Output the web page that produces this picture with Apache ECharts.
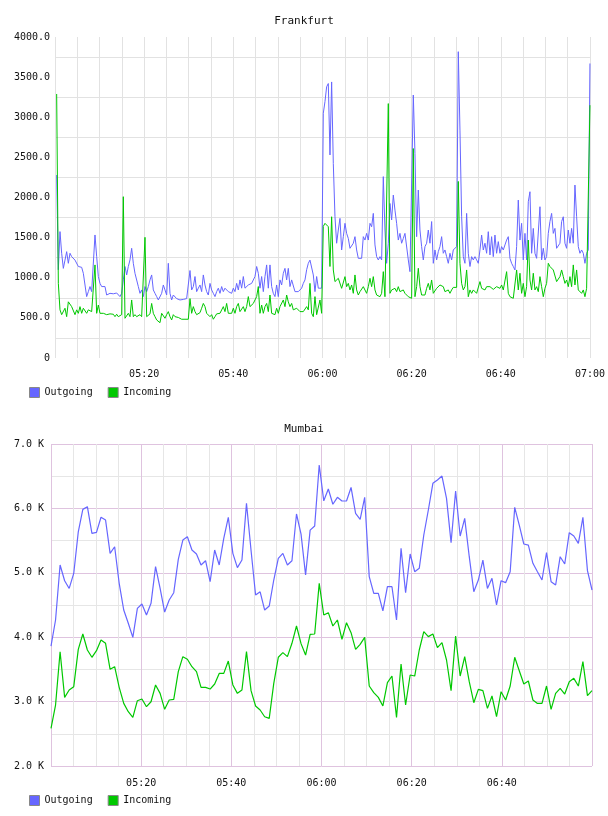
<!DOCTYPE html>
<html>
<head>
<meta charset="utf-8">
<script src="https://cdn.jsdelivr.net/npm/echarts@6/dist/echarts.min.js"></script>
<style>
html,body{margin:0;padding:0;background:#fff;}
#chart{width:608px;height:816px;}
</style>
</head>
<body>
<div id="chart"></div>
<script>
// ---- Data ----
const seriesNames = ['Outgoing', 'Incoming'];
const seriesColors = ['#6666ff', '#00c800'];

// Frankfurt: samples (minutes after 05:00), ~22 s apart
const frankfurtOutgoing = [
2280,1100,1575,1305,1117,1220,1325,1180,1305,1263,
1242,1220,1242,1140,1117,1130,1055,1076,765,827,
890,827,827,1533,1263,1015,930,890,910,890,
785,785,806,806,800,806,810,827,765,806,
973,1140,1035,1140,1222,1367,1180,1055,1035,890,
806,848,765,890,827,890,973,1035,848,806,
765,723,744,806,910,848,785,1180,806,723,
785,765,740,730,723,735,730,725,740,723,
1090,848,890,1015,827,870,910,827,1035,910,
827,785,930,848,806,765,827,870,806,890,
827,870,848,827,848,806,870,827,930,848,
973,870,1015,870,890,910,890,930,950,1015,
1140,1055,870,1015,827,1015,1160,870,1160,890,
806,765,910,765,973,910,1055,1117,973,1117,
890,973,950,827,806,827,848,870,930,973,
1100,1180,1220,1200,1035,827,1015,870,890,870,
3050,3195,3380,3420,2530,3440,2425,1760,1430,1595,
1740,1346,1512,1678,1553,1490,1367,1367,1430,1512,
1346,1242,1263,1242,1512,1470,1553,1470,1678,1636,
1802,1409,1263,1222,1263,1222,2260,1595,1180,1430,
1926,1720,2030,1843,1678,1470,1553,1430,1490,1553,
1574,1222,1076,1097,3277,2550,1512,2093,1595,1388,
1222,1388,1430,1595,1430,1700,1180,1346,1222,1325,
1388,1512,1305,1346,1263,1180,1305,1222,1346,1346,
1388,3817,2840,1760,1263,1180,1802,1305,1140,1263,
1222,1263,1222,1180,1346,1532,1346,1430,1305,1574,
1284,1512,1263,1532,1305,1450,1305,1388,1346,1409,
1470,1512,1242,1180,1140,1097,1388,1968,1470,1678,
1222,1553,1222,1947,2072,1305,1615,1305,1242,1222,
1885,1222,1367,1222,1263,1553,1700,1802,1553,1615,
1367,1388,1430,1700,1760,1430,1367,1595,1430,1615,
1430,2155,1760,1388,1305,1346,1305,1180,1305,1346,
3670
];
const frankfurtIncoming = [
3290,930,600,540,557,620,515,700,680,640,
660,540,600,557,640,557,620,640,557,600,
620,578,557,1160,557,660,557,578,557,565,
540,557,550,540,545,515,545,515,495,540,
2010,495,515,557,515,723,515,540,515,525,
540,515,495,1504,515,515,550,680,557,515,
474,453,440,557,578,495,540,578,515,474,
540,515,495,505,483,483,483,483,483,483,
740,557,640,578,540,557,565,620,680,640,
557,578,515,540,483,515,550,565,557,578,
640,578,680,557,578,557,620,557,640,680,
578,600,640,578,640,765,640,620,680,723,
765,890,557,660,557,640,680,578,785,557,
578,540,620,557,640,620,723,640,785,700,
640,680,600,578,620,600,578,600,578,600,
640,600,930,557,515,765,540,557,723,557,
1640,1678,1700,1636,1140,1760,1097,952,930,993,
1014,868,889,1014,889,930,848,910,806,1035,
848,785,827,806,889,868,806,889,993,889,
1014,848,785,785,764,806,1076,764,744,3170,
806,848,827,868,827,889,827,848,848,806,
806,764,744,744,2610,764,889,1118,889,785,
806,785,868,930,848,972,806,806,868,848,
910,910,889,827,827,848,806,848,880,880,
880,2200,1180,930,848,889,1097,764,848,806,
848,827,806,806,952,868,889,848,889,868,
889,868,855,848,889,868,868,910,848,868,
1076,806,764,785,744,764,1097,848,1056,806,
930,764,889,1470,972,848,1056,848,889,827,
1014,889,764,868,930,1180,1140,1140,1097,1097,
952,930,1014,1097,1014,930,972,889,1014,889,
1160,910,1097,848,848,806,848,764,868,848,
3150
];

// Mumbai: samples about one minute apart
const mumbaiOutgoing = [
3860,4267,5121,4877,4757,4990,5636,5985,6027,5612,
5627,5862,5820,5302,5405,4836,4422,4216,3998,4447,
4516,4345,4526,5096,4757,4390,4578,4691,5209,5509,
5560,5354,5292,5121,5188,4862,5354,5121,5535,5862,
5302,5080,5198,6078,5350,4655,4705,4422,4484,4888,
5225,5302,5121,5188,5913,5600,4966,5662,5727,6674,
6118,6301,6064,6172,6115,6115,6325,5922,5829,6172,
4940,4680,4680,4410,4784,4784,4267,5380,4691,5292,
5017,5069,5587,5975,6389,6441,6503,6156,5468,6270,
5571,5845,5250,4707,4888,5198,4757,4914,4500,4877,
4847,5017,6016,5741,5447,5431,5147,5017,4888,5313,
4862,4811,5250,5137,5623,5571,5457,5862,5033,4733
];
const mumbaiIncoming = [
2585,2947,3775,3066,3180,3232,3812,4050,3801,3688,
3791,3957,3905,3501,3542,3221,2972,2843,2755,3014,
3040,2921,2998,3258,3128,2880,3025,3035,3465,3698,
3657,3542,3465,3221,3221,3195,3273,3438,3438,3630,
3258,3128,3180,3775,3170,2932,2869,2765,2740,3283,
3688,3760,3698,3905,4174,3900,3723,4045,4050,4836,
4345,4381,4174,4267,3967,4226,4071,3812,3889,3998,
3242,3139,3066,2932,3294,3397,2755,3584,2947,3413,
3397,3801,4086,4009,4050,3838,3915,3646,3170,4019,
3397,3698,3309,2983,3190,3170,2895,3087,2765,3154,
3025,3242,3688,3480,3273,3320,3025,2972,2972,3242,
2880,3128,3206,3118,3309,3361,3242,3620,3092,3170
];

// sample times, minutes after 05:00
const frankfurtMinutes = frankfurtOutgoing.map((_, k) => (k + 1) * 120 / 321);
const mumbaiMinutes = mumbaiOutgoing.map((_, i) => i * 120 / 119);

// ---- Chart ----
const FONT = 'DejaVu Sans Mono';
function timeLabel(v) {
  const total = 300 + Math.round(v);
  const h = Math.floor(total / 60), m = total % 60;
  return (h < 10 ? '0' : '') + h + ':' + (m < 10 ? '0' : '') + m;
}
function pairs(ts, vs) { return vs.map((v, i) => [ts[i], v]); }

const chart = echarts.init(document.getElementById('chart'), null, {renderer: 'canvas'});
const labelStyle = {fontFamily: FONT, fontSize: 10, color: '#111'};

chart.setOption({
  animation: false,
  backgroundColor: '#fff',
  title: [
    {text: 'Frankfurt', left: 'center', top: 11, textStyle: {fontFamily: FONT, fontSize: 11, fontWeight: 'normal', color: '#111'}},
    {text: 'Mumbai', left: 'center', top: 419, textStyle: {fontFamily: FONT, fontSize: 11, fontWeight: 'normal', color: '#111'}}
  ],
  legend: [
    {data: seriesNames, left: 24, top: 382, icon: 'rect', itemWidth: 10, itemHeight: 10, itemGap: 15,
     textStyle: {fontFamily: FONT, fontSize: 10, color: '#111'},
     itemStyle: {borderColor: '#888', borderWidth: 1}},
    {data: seriesNames, left: 24, top: 790, icon: 'rect', itemWidth: 10, itemHeight: 10, itemGap: 15,
     textStyle: {fontFamily: FONT, fontSize: 10, color: '#111'},
     itemStyle: {borderColor: '#888', borderWidth: 1}}
  ],
  grid: [
    {left: 55, right: 17, top: 37, bottom: 458},
    {left: 51, right: 16, top: 444, bottom: 50}
  ],
  xAxis: [
    {gridIndex: 0, type: 'value', min: 0, max: 120, interval: 20,
     axisLine: {show: false}, axisTick: {show: false},
     axisLabel: Object.assign({formatter: timeLabel, showMinLabel: false, margin: 11}, labelStyle),
     splitLine: {show: true, lineStyle: {color: '#e2e2e2', width: 1}},
     minorTick: {show: false, splitNumber: 4},
     minorSplitLine: {show: true, lineStyle: {color: '#e2e2e2', width: 1}}},
    {gridIndex: 1, type: 'value', min: 0, max: 120, interval: 20,
     axisLine: {show: false}, axisTick: {show: false},
     axisLabel: Object.assign({formatter: timeLabel, showMinLabel: false, showMaxLabel: false, margin: 12}, labelStyle),
     splitLine: {show: true, lineStyle: {color: '#dfc3df', width: 1}},
     minorTick: {show: false, splitNumber: 4},
     minorSplitLine: {show: true, lineStyle: {color: '#e6e6e6', width: 1}}}
  ],
  yAxis: [
    {gridIndex: 0, type: 'value', min: 0, max: 4000, interval: 500,
     axisLine: {show: false}, axisTick: {show: false},
     axisLabel: Object.assign({formatter: v => v === 0 ? '0' : v.toFixed(1), margin: 5}, labelStyle),
     splitLine: {show: false},
     minorTick: {show: false, splitNumber: 2},
     minorSplitLine: {show: true, lineStyle: {color: '#e2e2e2', width: 1}}},
    {gridIndex: 1, type: 'value', min: 2000, max: 7000, interval: 1000,
     axisLine: {show: false}, axisTick: {show: false},
     axisLabel: Object.assign({formatter: v => (v / 1000).toFixed(1) + ' K', margin: 7}, labelStyle),
     splitLine: {show: true, lineStyle: {color: '#dfc3df', width: 1}},
     minorTick: {show: false, splitNumber: 2},
     minorSplitLine: {show: true, lineStyle: {color: '#e6e6e6', width: 1}}}
  ],
  series: [
    {name: seriesNames[0], type: 'line', xAxisIndex: 0, yAxisIndex: 0, showSymbol: false, symbol: 'none',
     data: pairs(frankfurtMinutes, frankfurtOutgoing), color: seriesColors[0], lineStyle: {width: 1, color: seriesColors[0]}},
    {name: seriesNames[1], type: 'line', xAxisIndex: 0, yAxisIndex: 0, showSymbol: false, symbol: 'none',
     data: pairs(frankfurtMinutes, frankfurtIncoming), color: seriesColors[1], lineStyle: {width: 1, color: seriesColors[1]}},
    {name: seriesNames[0], type: 'line', xAxisIndex: 1, yAxisIndex: 1, showSymbol: false, symbol: 'none',
     data: pairs(mumbaiMinutes, mumbaiOutgoing), color: seriesColors[0], lineStyle: {width: 1.2, color: seriesColors[0]}},
    {name: seriesNames[1], type: 'line', xAxisIndex: 1, yAxisIndex: 1, showSymbol: false, symbol: 'none',
     data: pairs(mumbaiMinutes, mumbaiIncoming), color: seriesColors[1], lineStyle: {width: 1.2, color: seriesColors[1]}}
  ]
});
</script>
</body>
</html>
